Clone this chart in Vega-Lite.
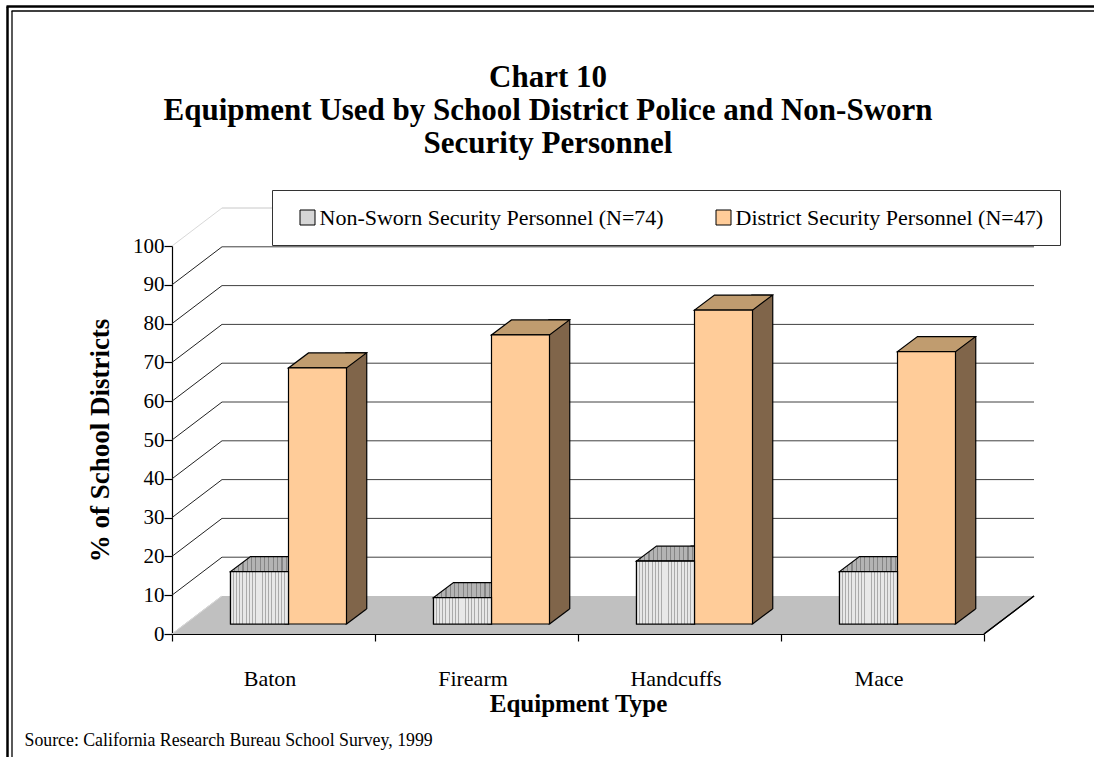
{
  "$schema": "https://vega.github.io/schema/vega-lite/v6.json",
  "width": 812,
  "height": 388,
  "autosize": "none",
  "padding": {"left": 172, "top": 246, "right": 110, "bottom": 123},
  "background": "white",
  "config": {"view": {"stroke": null}, "font": "Liberation Serif"},
  "title": {
    "text": ["Chart 10", "Equipment Used by School District Police and Non-Sworn", "Security Personnel"],
    "font": "Liberation Serif",
    "fontSize": 31,
    "fontWeight": "bold",
    "color": "black",
    "lineHeight": 33,
    "anchor": "middle",
    "frame": "group",
    "dx": -30,
    "dy": 158
  },
  "datasets": {
    "bars": [
      {"equipment": "Baton", "series": "Non-Sworn Security Personnel (N=74)", "value": 13.5},
      {"equipment": "Firearm", "series": "Non-Sworn Security Personnel (N=74)", "value": 6.8},
      {"equipment": "Handcuffs", "series": "Non-Sworn Security Personnel (N=74)", "value": 16.2},
      {"equipment": "Mace", "series": "Non-Sworn Security Personnel (N=74)", "value": 13.5},
      {"equipment": "Baton", "series": "District Security Personnel (N=47)", "value": 66.0},
      {"equipment": "Firearm", "series": "District Security Personnel (N=47)", "value": 74.5},
      {"equipment": "Handcuffs", "series": "District Security Personnel (N=47)", "value": 80.9},
      {"equipment": "Mace", "series": "District Security Personnel (N=47)", "value": 70.2}
    ],
    "ticks": [
      {"v": 0}, {"v": 10}, {"v": 20}, {"v": 30}, {"v": 40}, {"v": 50},
      {"v": 60}, {"v": 70}, {"v": 80}, {"v": 90}, {"v": 100}
    ]
  },
  "resolve": {"scale": {"x": "independent", "y": "independent"}, "axis": {"x": "independent", "y": "independent"}},
  "layer": [
    {
      "data": {"name": "ticks"},
      "transform": [{"filter": "datum.v === 0"}],
      "mark": {"type": "point", "opacity": 0},
      "encoding": {
        "x": {"datum": 0, "type": "quantitative", "scale": {"domain": [0, 1], "range": [-166, 930]},
          "axis": {"orient": "top", "offset": 240, "domain": true, "domainColor": "black", "domainWidth": 2.5, "ticks": false, "labels": false, "grid": false, "title": null}},
        "y": {"datum": 0, "type": "quantitative", "scale": {"domain": [0, 1], "range": [520, -240]},
          "axis": {"orient": "left", "offset": 165, "domain": true, "domainColor": "black", "domainWidth": 2.5, "ticks": false, "labels": false, "grid": false, "title": null}}
      }
    },
    {
      "data": {"name": "ticks"},
      "transform": [{"filter": "datum.v === 0"}],
      "mark": {"type": "point", "opacity": 0},
      "encoding": {
        "x": {"datum": 0, "type": "quantitative", "scale": {"domain": [0, 1], "range": [-161, 930]},
          "axis": {"orient": "top", "offset": 235.5, "domain": true, "domainColor": "black", "domainWidth": 1.3, "ticks": false, "labels": false, "grid": false, "title": null}},
        "y": {"datum": 0, "type": "quantitative", "scale": {"domain": [0, 1], "range": [520, -235.5]},
          "axis": {"orient": "left", "offset": 160.5, "domain": true, "domainColor": "black", "domainWidth": 1.3, "ticks": false, "labels": false, "grid": false, "title": null}}
      }
    },
    {
      "data": {"name": "bars"},
      "resolve": {"scale": {"xOffset": "independent"}, "axis": {"y": "independent"}},
      "layer": [
        {
          "mark": {"type": "point", "shape": "M-102,0 L102,0 L152,-38 L-52,-38 Z", "size": 4, "filled": true, "fill": "#c0c0c0", "strokeWidth": 0, "opacity": 1},
          "encoding": {
            "x": {"field": "equipment", "type": "nominal"},
            "y": {"datum": 0, "type": "quantitative", "axis": {
              "orient": "right", "domain": false, "ticks": false, "labels": false, "grid": false,
              "title": "Source: California Research Bureau School Survey, 1999",
              "titleFont": "Liberation Serif", "titleFontSize": 17.8, "titleFontWeight": "normal", "titleColor": "black",
              "titleAngle": 0, "titleAlign": "left", "titleBaseline": "alphabetic", "titleX": -960, "titleY": 499
            }}
          }
        },
        {
          "transform": [{"filter": "datum.equipment === 'Mace'"}],
          "mark": {"type": "point", "shape": "M101.5,0 L151.5,-38", "size": 4, "filled": false, "stroke": "black", "strokeWidth": 1.2, "opacity": 1},
          "encoding": {
            "x": {"field": "equipment", "type": "nominal"},
            "y": {"datum": 0, "type": "quantitative", "axis": null}
          }
        },
        {
          "data": {"name": "ticks"},
          "transform": [{"filter": "datum.v > 0"}],
          "mark": {"type": "rule", "xOffset": 50, "x2Offset": 50, "yOffset": -38, "strokeWidth": 1},
          "encoding": {
            "x": {"value": 0},
            "x2": {"value": "width"},
            "y": {"field": "v", "type": "quantitative", "axis": null},
            "stroke": {"condition": {"test": "datum.v >= 100", "value": "#c8c8c8"}, "value": "#404040"}
          }
        },
        {
          "data": {"name": "ticks"},
          "mark": {"type": "rule", "x2Offset": 50, "y2Offset": -38, "strokeWidth": 1},
          "encoding": {
            "x": {"value": 0},
            "x2": {"value": 0},
            "y": {"field": "v", "type": "quantitative", "axis": null},
            "y2": {"field": "v"},
            "stroke": {"condition": {"test": "datum.v === 0 || datum.v === 100", "value": "#d8d8d8"}, "value": "#222222"}
          }
        },
        {
          "mark": {"type": "bar", "yOffset": -25, "y2Offset": -10, "stroke": "black", "strokeWidth": 1.2},
          "encoding": {
            "x": {"field": "equipment", "type": "nominal"},
            "xOffset": {"field": "series", "scale": {"type": "band", "domain": ["Non-Sworn Security Personnel (N=74)", "District Security Personnel (N=47)"], "paddingInner": 0.6552, "paddingOuter": 1.0776, "align": 0.932}},
            "y": {"field": "value", "type": "quantitative", "axis": null},
            "y2": {"datum": 0},
            "fill": {"condition": {"test": "datum.series === 'District Security Personnel (N=47)'", "value": "#80654a"}, "value": "#8f8f8f"}
          }
        },
        {
          "mark": {"type": "point", "shape": "M29,0 L49,-15 L50.6,-15 L50.6,1.3 L29,1.3 Z", "size": 4, "filled": true, "fill": "#c0c0c0", "strokeWidth": 0, "opacity": 1, "yOffset": -10},
          "encoding": {
            "x": {"field": "equipment", "type": "nominal"},
            "xOffset": {"field": "series", "scale": {"type": "band", "domain": ["Non-Sworn Security Personnel (N=74)", "District Security Personnel (N=47)"], "paddingInner": 0, "paddingOuter": 0.75, "align": 0.6724}},
            "y": {"datum": 0, "type": "quantitative", "axis": null}
          }
        },
        {
          "mark": {"type": "point", "shape": "M29,0 L49,-15", "size": 4, "filled": false, "stroke": "black", "strokeWidth": 1.2, "opacity": 1, "yOffset": -10},
          "encoding": {
            "x": {"field": "equipment", "type": "nominal"},
            "xOffset": {"field": "series", "scale": {"type": "band", "domain": ["Non-Sworn Security Personnel (N=74)", "District Security Personnel (N=47)"], "paddingInner": 0, "paddingOuter": 0.75, "align": 0.6724}},
            "y": {"datum": 0, "type": "quantitative", "axis": null}
          }
        },
        {
          "mark": {"type": "point", "shape": "M-29,0 L29,0 L49,-15 L-9,-15 Z", "size": 4, "filled": true, "stroke": "black", "strokeWidth": 1.2, "opacity": 1, "yOffset": -10},
          "encoding": {
            "x": {"field": "equipment", "type": "nominal"},
            "xOffset": {"field": "series", "scale": {"type": "band", "domain": ["Non-Sworn Security Personnel (N=74)", "District Security Personnel (N=47)"], "paddingInner": 0, "paddingOuter": 0.75, "align": 0.6724}},
            "y": {"field": "value", "type": "quantitative", "axis": null},
            "fill": {"condition": {"test": "datum.series === 'District Security Personnel (N=47)'", "value": "#c09c6f"}, "value": {
              "gradient": "linear", "x1": 0, "y1": 0, "x2": 1, "y2": 0,
              "stops": [
                {"offset": 0, "color": "#b4b4b4"}, {"offset": 0.0389, "color": "#b4b4b4"}, {"offset": 0.0389, "color": "#858585"}, {"offset": 0.0556, "color": "#858585"},
                {"offset": 0.0556, "color": "#b4b4b4"}, {"offset": 0.0944, "color": "#b4b4b4"}, {"offset": 0.0944, "color": "#858585"}, {"offset": 0.1111, "color": "#858585"},
                {"offset": 0.1111, "color": "#b4b4b4"}, {"offset": 0.15, "color": "#b4b4b4"}, {"offset": 0.15, "color": "#858585"}, {"offset": 0.1667, "color": "#858585"},
                {"offset": 0.1667, "color": "#b4b4b4"}, {"offset": 0.2056, "color": "#b4b4b4"}, {"offset": 0.2056, "color": "#858585"}, {"offset": 0.2222, "color": "#858585"},
                {"offset": 0.2222, "color": "#b4b4b4"}, {"offset": 0.2611, "color": "#b4b4b4"}, {"offset": 0.2611, "color": "#858585"}, {"offset": 0.2778, "color": "#858585"},
                {"offset": 0.2778, "color": "#b4b4b4"}, {"offset": 0.3167, "color": "#b4b4b4"}, {"offset": 0.3167, "color": "#858585"}, {"offset": 0.3333, "color": "#858585"},
                {"offset": 0.3333, "color": "#b4b4b4"}, {"offset": 0.3722, "color": "#b4b4b4"}, {"offset": 0.3722, "color": "#858585"}, {"offset": 0.3889, "color": "#858585"},
                {"offset": 0.3889, "color": "#b4b4b4"}, {"offset": 0.4278, "color": "#b4b4b4"}, {"offset": 0.4278, "color": "#858585"}, {"offset": 0.4444, "color": "#858585"},
                {"offset": 0.4444, "color": "#b4b4b4"}, {"offset": 0.4833, "color": "#b4b4b4"}, {"offset": 0.4833, "color": "#858585"}, {"offset": 0.5, "color": "#858585"},
                {"offset": 0.5, "color": "#b4b4b4"}, {"offset": 0.5389, "color": "#b4b4b4"}, {"offset": 0.5389, "color": "#858585"}, {"offset": 0.5556, "color": "#858585"},
                {"offset": 0.5556, "color": "#b4b4b4"}, {"offset": 0.5944, "color": "#b4b4b4"}, {"offset": 0.5944, "color": "#858585"}, {"offset": 0.6111, "color": "#858585"},
                {"offset": 0.6111, "color": "#b4b4b4"}, {"offset": 0.65, "color": "#b4b4b4"}, {"offset": 0.65, "color": "#858585"}, {"offset": 0.6667, "color": "#858585"},
                {"offset": 0.6667, "color": "#b4b4b4"}, {"offset": 0.7056, "color": "#b4b4b4"}, {"offset": 0.7056, "color": "#858585"}, {"offset": 0.7222, "color": "#858585"},
                {"offset": 0.7222, "color": "#b4b4b4"}, {"offset": 0.7611, "color": "#b4b4b4"}, {"offset": 0.7611, "color": "#858585"}, {"offset": 0.7778, "color": "#858585"},
                {"offset": 0.7778, "color": "#b4b4b4"}, {"offset": 0.8167, "color": "#b4b4b4"}, {"offset": 0.8167, "color": "#858585"}, {"offset": 0.8333, "color": "#858585"},
                {"offset": 0.8333, "color": "#b4b4b4"}, {"offset": 0.8722, "color": "#b4b4b4"}, {"offset": 0.8722, "color": "#858585"}, {"offset": 0.8889, "color": "#858585"},
                {"offset": 0.8889, "color": "#b4b4b4"}, {"offset": 0.9278, "color": "#b4b4b4"}, {"offset": 0.9278, "color": "#858585"}, {"offset": 0.9444, "color": "#858585"},
                {"offset": 0.9444, "color": "#b4b4b4"}, {"offset": 0.9833, "color": "#b4b4b4"}, {"offset": 0.9833, "color": "#858585"}, {"offset": 1, "color": "#858585"}
              ]
            }}
          }
        },
        {
          "mark": {"type": "bar", "yOffset": -10, "y2Offset": -10, "stroke": "black", "strokeWidth": 1.2},
          "encoding": {
            "x": {
              "field": "equipment", "type": "nominal",
              "scale": {"domain": ["Baton", "Firearm", "Handcuffs", "Mace"], "paddingInner": 0, "paddingOuter": 0},
              "axis": {
                "orient": "bottom", "tickBand": "extent", "domainColor": "black", "domainWidth": 1.2,
                "tickColor": "black", "tickSize": 7, "tickWidth": 1.2,
                "labelFont": "Liberation Serif", "labelFontSize": 22, "labelColor": "black", "labelAngle": 0, "labelAlign": "center", "labelPadding": 37, "labelOffset": -4,
                "title": "Equipment Type", "titleFont": "Liberation Serif", "titleFontSize": 25, "titleFontWeight": "bold", "titleColor": "black",
                "titleX": 406, "titleY": 69, "titleAlign": "center", "titleBaseline": "middle"
              }
            },
            "xOffset": {
              "field": "series",
              "scale": {"type": "band", "domain": ["Non-Sworn Security Personnel (N=74)", "District Security Personnel (N=47)"], "paddingInner": 0, "paddingOuter": 0.75, "align": 0.6724}
            },
            "y": {
              "field": "value", "type": "quantitative",
              "scale": {"domain": [0, 100], "nice": false},
              "axis": {
                "orient": "left",
                "values": [0, 10, 20, 30, 40, 50, 60, 70, 80, 90, 100],
                "domainColor": "black", "domainWidth": 1.2, "tickColor": "black", "tickSize": 8, "tickWidth": 1.2, "grid": false,
                "labelFont": "Liberation Serif", "labelFontSize": 21, "labelColor": "black", "labelPadding": 0,
                "title": "% of School Districts", "titleFont": "Liberation Serif", "titleFontSize": 27, "titleFontWeight": "bold", "titleColor": "black",
                "titleX": -72, "titleY": 194, "titleAngle": -90, "titleAlign": "center", "titleBaseline": "middle"
              }
            },
            "y2": {"datum": 0},
            "fill": {
              "field": "series", "type": "nominal",
              "scale": {"domain": ["Non-Sworn Security Personnel (N=74)", "District Security Personnel (N=47)"], "range": ["#d6d6d6", "#ffcc99"]},
              "legend": {
                "orient": "none", "legendX": 100, "legendY": -56, "direction": "horizontal", "title": null,
                "labelFont": "Liberation Serif", "labelFontSize": 22, "labelColor": "black", "labelLimit": 0, "labelOffset": 1,
                "symbolType": "square", "symbolSize": 225, "symbolStrokeColor": "black", "symbolStrokeWidth": 1, "symbolOffset": 8,
                "strokeColor": "#333333", "fillColor": "white", "padding": 16.5, "columnPadding": 40
              }
            }
          }
        },
        {
          "transform": [{"filter": "datum.series === 'Non-Sworn Security Personnel (N=74)'"}],
          "mark": {"type": "bar", "yOffset": -10, "y2Offset": -10, "stroke": "black", "strokeWidth": 1.2},
          "encoding": {
            "x": {"field": "equipment", "type": "nominal"},
            "xOffset": {"field": "series", "scale": {"type": "band", "domain": ["Non-Sworn Security Personnel (N=74)", "District Security Personnel (N=47)"], "paddingInner": 0, "paddingOuter": 0.75, "align": 0.6724}},
            "y": {"field": "value", "type": "quantitative", "axis": null},
            "y2": {"datum": 0},
            "fill": {"value": {
              "gradient": "linear", "x1": 0, "y1": 0, "x2": 1, "y2": 0,
              "stops": [
                {"offset": 0, "color": "#e8e8e8"}, {"offset": 0.0389, "color": "#e8e8e8"}, {"offset": 0.0389, "color": "#ababab"}, {"offset": 0.0556, "color": "#ababab"},
                {"offset": 0.0556, "color": "#e8e8e8"}, {"offset": 0.0944, "color": "#e8e8e8"}, {"offset": 0.0944, "color": "#ababab"}, {"offset": 0.1111, "color": "#ababab"},
                {"offset": 0.1111, "color": "#e8e8e8"}, {"offset": 0.15, "color": "#e8e8e8"}, {"offset": 0.15, "color": "#ababab"}, {"offset": 0.1667, "color": "#ababab"},
                {"offset": 0.1667, "color": "#e8e8e8"}, {"offset": 0.2056, "color": "#e8e8e8"}, {"offset": 0.2056, "color": "#ababab"}, {"offset": 0.2222, "color": "#ababab"},
                {"offset": 0.2222, "color": "#e8e8e8"}, {"offset": 0.2611, "color": "#e8e8e8"}, {"offset": 0.2611, "color": "#ababab"}, {"offset": 0.2778, "color": "#ababab"},
                {"offset": 0.2778, "color": "#e8e8e8"}, {"offset": 0.3167, "color": "#e8e8e8"}, {"offset": 0.3167, "color": "#ababab"}, {"offset": 0.3333, "color": "#ababab"},
                {"offset": 0.3333, "color": "#e8e8e8"}, {"offset": 0.3722, "color": "#e8e8e8"}, {"offset": 0.3722, "color": "#ababab"}, {"offset": 0.3889, "color": "#ababab"},
                {"offset": 0.3889, "color": "#e8e8e8"}, {"offset": 0.4278, "color": "#e8e8e8"}, {"offset": 0.4278, "color": "#ababab"}, {"offset": 0.4444, "color": "#ababab"},
                {"offset": 0.4444, "color": "#e8e8e8"}, {"offset": 0.4833, "color": "#e8e8e8"}, {"offset": 0.4833, "color": "#ababab"}, {"offset": 0.5, "color": "#ababab"},
                {"offset": 0.5, "color": "#e8e8e8"}, {"offset": 0.5389, "color": "#e8e8e8"}, {"offset": 0.5389, "color": "#ababab"}, {"offset": 0.5556, "color": "#ababab"},
                {"offset": 0.5556, "color": "#e8e8e8"}, {"offset": 0.5944, "color": "#e8e8e8"}, {"offset": 0.5944, "color": "#ababab"}, {"offset": 0.6111, "color": "#ababab"},
                {"offset": 0.6111, "color": "#e8e8e8"}, {"offset": 0.65, "color": "#e8e8e8"}, {"offset": 0.65, "color": "#ababab"}, {"offset": 0.6667, "color": "#ababab"},
                {"offset": 0.6667, "color": "#e8e8e8"}, {"offset": 0.7056, "color": "#e8e8e8"}, {"offset": 0.7056, "color": "#ababab"}, {"offset": 0.7222, "color": "#ababab"},
                {"offset": 0.7222, "color": "#e8e8e8"}, {"offset": 0.7611, "color": "#e8e8e8"}, {"offset": 0.7611, "color": "#ababab"}, {"offset": 0.7778, "color": "#ababab"},
                {"offset": 0.7778, "color": "#e8e8e8"}, {"offset": 0.8167, "color": "#e8e8e8"}, {"offset": 0.8167, "color": "#ababab"}, {"offset": 0.8333, "color": "#ababab"},
                {"offset": 0.8333, "color": "#e8e8e8"}, {"offset": 0.8722, "color": "#e8e8e8"}, {"offset": 0.8722, "color": "#ababab"}, {"offset": 0.8889, "color": "#ababab"},
                {"offset": 0.8889, "color": "#e8e8e8"}, {"offset": 0.9278, "color": "#e8e8e8"}, {"offset": 0.9278, "color": "#ababab"}, {"offset": 0.9444, "color": "#ababab"},
                {"offset": 0.9444, "color": "#e8e8e8"}, {"offset": 0.9833, "color": "#e8e8e8"}, {"offset": 0.9833, "color": "#ababab"}, {"offset": 1, "color": "#ababab"}
              ]
            }}
          }
        }
      ]
    }
  ]
}
